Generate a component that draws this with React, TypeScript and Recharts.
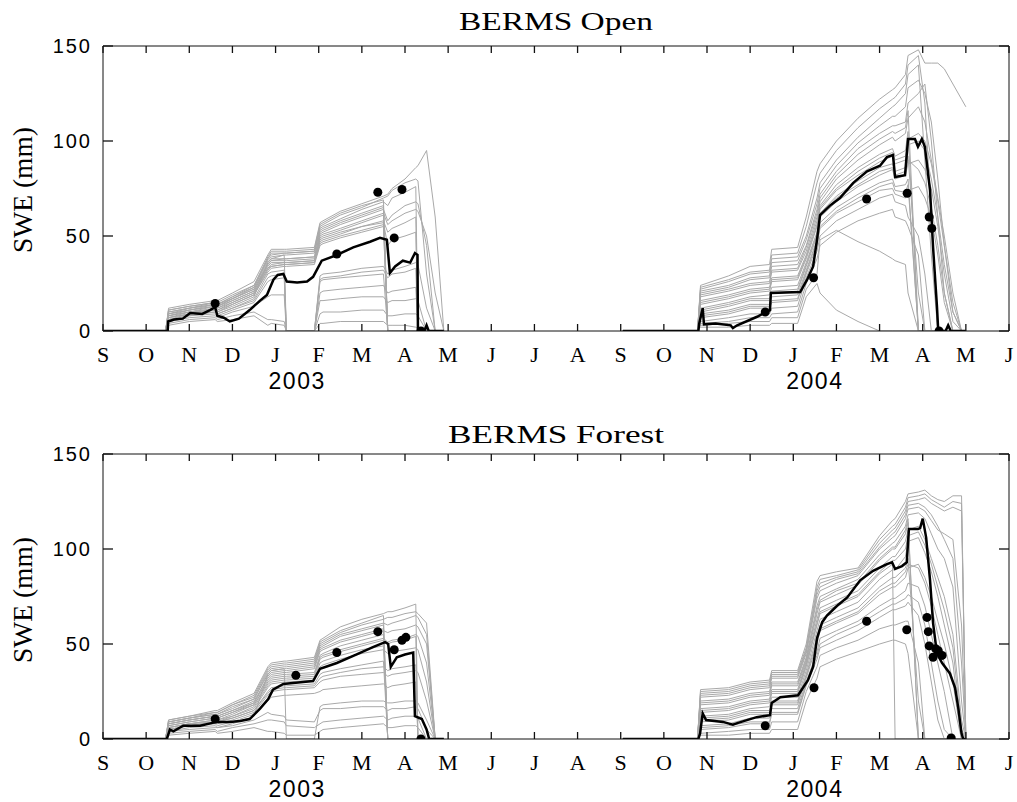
import React from 'react';
import { ComposedChart, Line, XAxis, YAxis } from 'recharts';

// ---------- axis ticks & labels ----------
const monthTicks = [0, 1, 2, 3, 4, 5, 6, 7, 8, 9, 10, 11, 12, 13, 14, 15, 16, 17, 18, 19, 20, 21];
const monthLabels = ['S', 'O', 'N', 'D', 'J', 'F', 'M', 'A', 'M', 'J', 'J', 'A', 'S', 'O', 'N', 'D', 'J', 'F', 'M', 'A', 'M', 'J'];
const yearTicks = [4.5, 16.5];
const yearLabels = ['2003', '2004'];
const sweTicks = [0, 50, 100, 150];

// time in months since 1 Sep 2002
const grid03 = [0, 1.45, 1.52, 2.0, 2.6, 2.65, 3.0, 3.5, 3.82, 3.9, 4.2, 4.25, 4.9, 5.03, 5.1, 5.5, 6.0, 6.5, 6.6, 6.7, 7.0, 7.25, 7.3, 7.5, 7.7, 7.9];
const grid04 = [12.05, 13.78, 13.85, 14.5, 15.0, 15.45, 15.5, 16.1, 16.3, 16.55, 16.62, 17.0, 17.5, 18.0, 18.3, 18.36, 18.6, 18.66, 18.9, 19.05, 19.2, 19.35, 19.5, 19.7, 19.9, 20.0];

// ---------- BERMS Open ----------
const openBlack03T = [0, 1.5, 1.51, 1.65, 1.85, 2.02, 2.3, 2.48, 2.6, 2.65, 2.8, 2.94, 3.15, 3.4, 3.64, 3.8, 3.95, 4.05, 4.18, 4.26, 4.5, 4.73, 4.87, 5.07, 5.42, 5.8, 6.19, 6.42, 6.58, 6.65, 6.77, 6.95, 7.12, 7.23, 7.29, 7.3, 7.45, 7.5, 7.55, 7.9];
const openBlack03V = [0, 0, 5, 6, 6.5, 9.5, 9, 11, 12.5, 8, 7, 5, 6.5, 11, 16, 19, 27, 29.5, 30, 26, 25.5, 26, 28.5, 37, 40, 44, 47, 49, 48, 30.5, 34, 37, 36, 41, 40, 0, 0, 3, 0, 0];
const openBlack04T = [12.05, 13.8, 13.82, 13.9, 13.93, 14.2, 14.55, 14.6, 14.7, 15.16, 15.46, 15.48, 16.16, 16.32, 16.46, 16.55, 16.62, 16.85, 17.08, 17.39, 17.71, 18.01, 18.17, 18.31, 18.36, 18.59, 18.66, 18.82, 18.89, 18.98, 19.05, 19.17, 19.24, 19.33, 19.36, 19.53, 19.59, 19.65, 20.0];
const openBlack04V = [0, 0, 4, 12, 3.5, 4, 3, 1.5, 3, 7.5, 11, 20, 20.5, 27, 34, 48, 61, 66, 70, 78, 84, 87, 91.5, 92.6, 81, 82, 101, 101, 97, 101, 97, 74, 44, 13, 0, 0, 3, 0, 0];
const openObsT = [2.6, 5.42, 6.37, 6.75, 6.93, 7.37, 15.35, 16.47, 17.7, 18.64, 19.15, 19.21, 19.38];
const openObsV = [14.5, 40.5, 73, 49, 74.5, 0, 10, 28, 69.5, 72.5, 60, 54, 0];

const openEns03 = [
  [0, 0, 12, 14, 16, 16, 20, 26, 40, 43, 43, 43, 44, 57, 58, 63, 67, 71, 72, 75, 80, 86, 87, 95, 60, 0],
  [0, 0, 11, 13, 15, 15, 19, 24, 38, 41, 41, 41, 42, 55, 56, 61, 65, 70, 71, 74, 78, 80, 79, 30, 0, 0],
  [0, 0, 10, 12, 14, 14, 18, 23, 37, 39, 40, 40, 41, 53, 54, 58, 62, 66, 0, 0, 0, 0, 0, 0, 0, 0],
  [0, 0, 9, 12, 14, 13, 17, 22, 36, 38, 38, 38, 39, 51, 52, 56, 60, 64, 58, 61, 66, 68, 67, 45, 0, 0],
  [0, 0, 8, 11, 13, 12, 16, 21, 34, 36, 36, 36, 37, 49, 50, 53, 57, 61, 0, 0, 0, 0, 0, 0, 0, 0],
  [0, 0, 8, 10, 12, 11, 15, 20, 33, 34, 35, 35, 36, 47, 48, 51, 55, 58, 52, 54, 57, 60, 0, 0, 0, 0],
  [0, 0, 7, 10, 11, 10, 14, 19, 31, 33, 34, 34, 35, 45, 46, 49, 52, 55, 0, 0, 0, 0, 0, 0, 0, 0],
  [0, 0, 7, 9, 11, 10, 13, 18, 36, 38, 40, 0, 0, 29, 30, 31, 33, 34, 30, 32, 34, 36, 35, 12, 0, 0],
  [0, 0, 6, 9, 10, 9, 12, 16, 28, 29, 30, 0, 0, 26, 27, 28, 29, 30, 0, 0, 0, 0, 0, 0, 0, 0],
  [0, 0, 6, 8, 9, 8, 11, 15, 26, 27, 28, 0, 0, 20, 21, 22, 23, 24, 20, 21, 22, 23, 0, 0, 0, 0],
  [0, 0, 5, 7, 8, 7, 10, 13, 18, 19, 19, 0, 0, 16, 16, 17, 18, 18, 15, 16, 16, 17, 16, 0, 0, 0],
  [0, 0, 4, 6, 7, 6, 8, 10, 6, 6, 5, 0, 0, 9, 10, 10, 11, 11, 8, 8, 9, 9, 8, 0, 0, 0],
  [0, 0, 3, 5, 6, 5, 6, 8, 3, 4, 3, 0, 0, 4, 4, 5, 5, 5, 3, 3, 3, 2, 1, 0, 0, 0],
  [0, 0, 9, 11, 13, 13, 17, 22, 35, 37, 37, 37, 38, 48, 49, 52, 55, 57, 45, 48, 50, 52, 0, 0, 0, 0],
  [0, 0, 11, 13, 15, 14, 18, 24, 39, 42, 42, 42, 43, 56, 57, 62, 66, 69, 0, 0, 0, 0, 0, 0, 0, 0],
  [0, 0, 10, 12, 15, 14, 17, 23, 38, 40, 41, 41, 42, 54, 55, 59, 64, 68, 66, 70, 73, 76, 0, 0, 0, 0],
  [0, 0, 9, 11, 14, 13, 16, 21, 35, 37, 38, 38, 39, 52, 53, 57, 61, 65, 0, 0, 0, 0, 0, 0, 0, 0],
  [0, 0, 8, 10, 13, 12, 15, 20, 33, 35, 36, 36, 37, 50, 51, 54, 58, 62, 56, 58, 62, 64, 63, 50, 20, 0],
  [0, 0, 7, 9, 12, 11, 14, 19, 32, 34, 35, 35, 36, 46, 47, 50, 53, 56, 0, 0, 0, 0, 0, 0, 0, 0],
  [0, 0, 6, 8, 10, 9, 12, 17, 30, 31, 32, 0, 0, 27, 28, 29, 31, 32, 28, 30, 31, 33, 0, 0, 0, 0],
];
const openEns04 = [
  [0, 0, 24, 29, 34, 35, 43, 44, 60, 84, 88, 100, 112, 122, 127, 128, 135, 145, 148, 141, 141, 141, 138, 130, 122, 118],
  [0, 0, 22, 26, 30, 31, 38, 39, 50, 70, 78, 90, 102, 112, 118, 119, 125, 135, 140, 90, 40, 0, 0, 0, 0, 0],
  [0, 0, 20, 23, 27, 28, 34, 35, 45, 64, 72, 84, 96, 104, 108, 108, 110, 120, 125, 130, 100, 60, 20, 0, 0, 0],
  [0, 0, 18, 21, 24, 25, 31, 32, 42, 60, 68, 80, 90, 98, 102, 100, 104, 112, 118, 110, 90, 70, 50, 20, 0, 0],
  [0, 0, 16, 19, 22, 23, 28, 29, 40, 58, 66, 77, 86, 93, 96, 92, 95, 105, 0, 0, 0, 0, 0, 0, 0, 0],
  [0, 0, 14, 17, 20, 21, 26, 27, 38, 55, 64, 74, 82, 89, 92, 88, 90, 98, 100, 95, 80, 60, 35, 10, 0, 0],
  [0, 0, 12, 15, 18, 19, 23, 24, 36, 52, 62, 71, 79, 86, 88, 84, 86, 92, 20, 0, 0, 0, 0, 0, 0, 0],
  [0, 0, 10, 13, 16, 16, 20, 21, 34, 50, 60, 68, 76, 82, 85, 80, 82, 88, 90, 85, 75, 55, 30, 5, 0, 0],
  [0, 0, 9, 11, 14, 14, 18, 19, 32, 48, 57, 65, 72, 78, 80, 76, 77, 80, 0, 0, 0, 0, 0, 0, 0, 0],
  [0, 0, 7, 9, 12, 12, 15, 16, 30, 45, 54, 62, 68, 74, 75, 72, 70, 74, 76, 70, 60, 40, 15, 0, 0, 0],
  [0, 0, 5, 7, 9, 9, 12, 13, 28, 42, 50, 58, 64, 70, 72, 68, 66, 60, 50, 30, 0, 0, 0, 0, 0, 0],
  [0, 0, 4, 5, 7, 7, 9, 10, 25, 38, 45, 52, 58, 62, 64, 60, 58, 55, 40, 0, 0, 0, 0, 0, 0, 0],
  [0, 0, 3, 4, 5, 5, 7, 7, 22, 30, 48, 53, 47, 42, 38, 37, 35, 20, 0, 0, 0, 0, 0, 0, 0, 0],
  [0, 0, 2, 2, 3, 3, 4, 4, 18, 25, 20, 11, 5, 0, 0, 0, 0, 0, 0, 0, 0, 0, 0, 0, 0, 0],
  [0, 0, 23, 27, 31, 32, 40, 41, 55, 78, 83, 95, 107, 117, 122, 123, 130, 140, 145, 120, 60, 0, 0, 0, 0, 0],
  [0, 0, 21, 24, 28, 29, 36, 37, 48, 67, 75, 87, 99, 108, 113, 113, 118, 128, 132, 125, 110, 80, 45, 10, 0, 0],
  [0, 0, 19, 22, 25, 26, 32, 33, 44, 62, 70, 82, 93, 101, 105, 104, 107, 116, 0, 0, 0, 0, 0, 0, 0, 0],
  [0, 0, 15, 18, 21, 22, 27, 28, 39, 56, 65, 75, 84, 91, 94, 90, 92, 101, 104, 100, 88, 68, 45, 15, 0, 0],
  [0, 0, 11, 14, 17, 17, 21, 22, 35, 51, 61, 70, 77, 84, 86, 82, 84, 90, 85, 78, 65, 45, 20, 0, 0, 0],
  [0, 0, 8, 10, 13, 13, 16, 17, 31, 47, 55, 63, 70, 76, 78, 74, 73, 77, 0, 0, 0, 0, 0, 0, 0, 0],
];

// ---------- BERMS Forest ----------
const forestBlack03T = [0, 1.48, 1.55, 1.63, 1.86, 2.25, 2.64, 2.94, 3.18, 3.4, 3.64, 3.83, 3.94, 4.18, 4.64, 4.87, 5.03, 5.42, 5.88, 6.27, 6.54, 6.61, 6.67, 6.81, 7.0, 7.19, 7.23, 7.39, 7.5, 7.56, 7.9];
const forestBlack03V = [0, 0, 5, 4, 7, 7, 9, 9, 9.5, 10.5, 16, 21, 26, 29, 30, 30.5, 37, 40, 44.5, 48.5, 51, 50, 38, 43, 44.5, 45.5, 12, 10.5, 5, 0, 0];
const forestBlack04T = [12.05, 13.8, 13.84, 13.9, 13.98, 14.37, 14.6, 14.72, 15.15, 15.46, 15.5, 15.7, 16.11, 16.34, 16.46, 16.55, 16.67, 16.78, 17.01, 17.25, 17.55, 17.85, 18.17, 18.29, 18.36, 18.52, 18.63, 18.68, 18.89, 18.94, 19.0, 19.08, 19.17, 19.24, 19.33, 19.45, 19.63, 19.75, 19.82, 19.9, 19.94, 20.0];
const forestBlack04V = [0, 0, 3, 13.5, 10, 9, 7.5, 8.5, 11.5, 12.5, 19, 22, 23, 31, 38, 53, 61.5, 65, 70, 74.5, 83.5, 88.5, 92, 93, 89.5, 91, 93, 110.5, 110.5, 111, 116, 106, 83.5, 61, 45, 40, 34.5, 27, 17, 3, 0, 0];
const forestObsT = [2.6, 4.47, 5.42, 6.37, 6.75, 6.93, 7.02, 7.37, 15.35, 16.48, 17.7, 18.63, 19.1, 19.13, 19.15, 19.24, 19.3, 19.36, 19.45, 19.66];
const forestObsV = [10.5, 33.5, 45.5, 56.5, 47, 52, 53.5, 0, 7, 27, 62, 57.5, 64, 56.5, 49, 43, 47.5, 46.5, 44, 0.5];

const forestEns03 = [
  [0, 0, 10, 12, 15, 15, 19, 24, 38, 40, 41, 41, 43, 52, 53, 59, 63, 66, 67, 67, 69, 71, 0, 0, 0, 0],
  [0, 0, 9, 11, 14, 14, 18, 22, 36, 38, 39, 39, 41, 50, 51, 56, 60, 63, 64, 64, 66, 67, 66, 61, 0, 0],
  [0, 0, 9, 11, 13, 13, 17, 21, 34, 36, 37, 37, 39, 48, 49, 54, 57, 60, 0, 0, 0, 0, 0, 0, 0, 0],
  [0, 0, 8, 10, 12, 12, 15, 20, 32, 34, 35, 35, 37, 46, 47, 51, 54, 57, 56, 57, 58, 60, 59, 50, 0, 0],
  [0, 0, 8, 10, 12, 11, 14, 19, 31, 33, 34, 34, 35, 44, 45, 49, 52, 55, 0, 0, 0, 0, 0, 0, 0, 0],
  [0, 0, 7, 9, 11, 10, 13, 18, 29, 31, 32, 32, 33, 42, 43, 46, 49, 52, 50, 51, 52, 54, 0, 0, 0, 0],
  [0, 0, 6, 8, 10, 9, 12, 16, 27, 29, 30, 30, 31, 38, 39, 42, 45, 47, 45, 46, 47, 48, 47, 30, 0, 0],
  [0, 0, 6, 8, 9, 9, 11, 15, 25, 27, 28, 28, 29, 34, 35, 37, 39, 41, 0, 0, 0, 0, 0, 0, 0, 0],
  [0, 0, 5, 7, 9, 8, 10, 14, 23, 25, 26, 26, 27, 30, 31, 33, 34, 35, 33, 34, 35, 36, 35, 20, 0, 0],
  [0, 0, 5, 7, 8, 7, 9, 13, 20, 22, 23, 23, 24, 25, 26, 27, 28, 29, 27, 28, 29, 30, 0, 0, 0, 0],
  [0, 0, 4, 6, 7, 6, 8, 12, 34, 36, 37, 0, 0, 17, 18, 19, 20, 20, 19, 19, 20, 20, 19, 10, 0, 0],
  [0, 0, 4, 5, 6, 6, 7, 10, 14, 13, 12, 10, 9, 15, 16, 16, 17, 17, 15, 16, 16, 17, 16, 5, 0, 0],
  [0, 0, 3, 4, 5, 4, 6, 8, 10, 10, 9, 7, 6, 8, 9, 10, 11, 12, 10, 11, 12, 12, 11, 0, 0, 0],
  [0, 0, 2, 3, 4, 3, 4, 6, 4, 4, 3, 2, 2, 4, 5, 6, 7, 8, 6, 6, 7, 7, 6, 0, 0, 0],
  [0, 0, 10, 12, 14, 14, 18, 23, 37, 39, 40, 40, 42, 51, 52, 57, 61, 65, 0, 0, 0, 0, 0, 0, 0, 0],
  [0, 0, 9, 11, 13, 13, 16, 21, 35, 37, 38, 38, 40, 49, 50, 55, 58, 61, 60, 61, 63, 65, 64, 55, 0, 0],
  [0, 0, 8, 10, 12, 12, 15, 19, 33, 35, 36, 36, 38, 47, 48, 52, 55, 58, 0, 0, 0, 0, 0, 0, 0, 0],
  [0, 0, 7, 9, 11, 11, 14, 18, 30, 32, 33, 33, 34, 43, 44, 47, 50, 53, 51, 52, 53, 55, 54, 40, 0, 0],
  [0, 0, 6, 8, 10, 10, 12, 17, 28, 30, 31, 31, 32, 40, 41, 44, 47, 49, 0, 0, 0, 0, 0, 0, 0, 0],
  [0, 0, 5, 7, 9, 9, 11, 15, 24, 26, 27, 27, 28, 32, 33, 35, 37, 38, 36, 37, 38, 39, 0, 0, 0, 0],
];
const forestEns04 = [
  [0, 0, 26, 27, 30, 31, 36, 36, 50, 83, 86, 88, 90, 107, 115, 116, 125, 129, 130, 131, 128, 126, 125, 128, 128, 0],
  [0, 0, 24, 25, 28, 29, 34, 34, 47, 78, 82, 85, 88, 103, 110, 111, 120, 125, 126, 127, 124, 122, 120, 122, 120, 0],
  [0, 0, 22, 23, 26, 27, 32, 32, 45, 74, 78, 82, 86, 100, 106, 107, 116, 121, 122, 120, 115, 110, 108, 105, 60, 0],
  [0, 0, 20, 21, 24, 25, 30, 30, 43, 70, 75, 79, 84, 97, 103, 104, 112, 118, 119, 116, 108, 100, 95, 80, 20, 0],
  [0, 0, 18, 19, 22, 23, 28, 28, 41, 66, 72, 76, 81, 94, 100, 100, 108, 114, 0, 0, 0, 0, 0, 0, 0, 0],
  [0, 0, 16, 17, 20, 21, 26, 26, 40, 63, 69, 73, 78, 90, 96, 96, 104, 110, 112, 105, 95, 85, 75, 55, 10, 0],
  [0, 0, 14, 15, 18, 19, 24, 24, 38, 60, 66, 70, 75, 87, 92, 0, 0, 0, 0, 0, 0, 0, 0, 0, 0, 0],
  [0, 0, 12, 13, 16, 17, 22, 22, 36, 57, 63, 67, 72, 84, 89, 89, 96, 104, 106, 98, 88, 75, 60, 40, 0, 0],
  [0, 0, 11, 12, 15, 15, 20, 20, 34, 54, 60, 64, 69, 80, 85, 85, 90, 95, 20, 0, 0, 0, 0, 0, 0, 0],
  [0, 0, 9, 10, 13, 13, 18, 18, 32, 50, 57, 61, 66, 76, 80, 80, 85, 90, 92, 85, 75, 62, 50, 30, 0, 0],
  [0, 0, 7, 8, 11, 11, 16, 16, 30, 46, 53, 57, 62, 70, 74, 74, 78, 82, 80, 70, 55, 40, 25, 0, 0, 0],
  [0, 0, 5, 6, 8, 8, 13, 13, 28, 42, 48, 52, 57, 64, 68, 68, 70, 72, 65, 50, 30, 10, 0, 0, 0, 0],
  [0, 0, 3, 4, 5, 5, 9, 9, 25, 38, 44, 48, 52, 58, 60, 60, 62, 62, 40, 0, 0, 0, 0, 0, 0, 0],
  [0, 0, 2, 2, 3, 3, 5, 5, 20, 32, 38, 42, 46, 50, 52, 52, 50, 45, 0, 0, 0, 0, 0, 0, 0, 0],
  [0, 0, 25, 26, 29, 30, 35, 35, 48, 80, 84, 86, 89, 105, 112, 113, 122, 127, 128, 129, 126, 124, 122, 125, 124, 0],
  [0, 0, 23, 24, 27, 28, 33, 33, 46, 76, 80, 84, 87, 101, 108, 109, 118, 123, 124, 122, 118, 112, 105, 95, 40, 0],
  [0, 0, 19, 20, 23, 24, 29, 29, 42, 68, 73, 78, 82, 95, 101, 101, 110, 116, 0, 0, 0, 0, 0, 0, 0, 0],
  [0, 0, 15, 16, 19, 20, 25, 25, 39, 61, 67, 71, 76, 88, 94, 94, 100, 107, 109, 102, 92, 80, 68, 48, 5, 0],
  [0, 0, 10, 11, 14, 14, 19, 19, 33, 52, 58, 62, 67, 78, 82, 82, 88, 92, 90, 82, 70, 55, 40, 20, 0, 0],
  [0, 0, 6, 7, 9, 9, 14, 14, 29, 44, 50, 55, 60, 67, 71, 71, 74, 76, 72, 60, 40, 20, 5, 0, 0, 0],
];

// ---------- layout ----------
const W = 1017;
const H = 394;
const PLOT_L = 103; // left axis width
const PLOT_R = 1009; // W - right axis width
const PLOT_T = 46; // top axis height
const PLOT_B = 331; // H - bottom axes heights
const MONTH_AXIS_H = 30;
const YEAR_AXIS_H = H - PLOT_B - MONTH_AXIS_H;
const GREY = '#a9a9a9';
const FRAME = '#111';
const SERIF = "'Liberation Serif', 'Times New Roman', serif";
const SANS = "'Liberation Sans', Arial, sans-serif";
const X_MIN = 0;
const X_MAX = 21;
const Y_MIN = 0;
const Y_MAX = 150;

function series(ts: number[], vs: number[]) {
  return ts.map((t, i) => ({ t, v: vs[i] }));
}

const MonthTick = (p: any) => (
  <text x={p.x} y={p.y} textAnchor="middle" fontFamily={SERIF} fontSize={22} fill="#000">
    {monthLabels[monthTicks.indexOf(p.payload.value)]}
  </text>
);

const YearTick = (p: any) => (
  <text x={p.x} y={p.y} textAnchor="middle" fontFamily={SANS} fontSize={23} letterSpacing={1.5} fill="#000">
    {yearLabels[yearTicks.indexOf(p.payload.value)]}
  </text>
);

const ValueTick = (p: any) => (
  <text x={p.x} y={p.y} dy={7} textAnchor="end" fontFamily={SANS} fontSize={20} letterSpacing={2} fill="#000">
    {p.payload.value}
  </text>
);

// inward tick marks of the frame (axis decoration)
function FrameTicks() {
  const px = (m: number) => PLOT_L + ((m - X_MIN) / (X_MAX - X_MIN)) * (PLOT_R - PLOT_L);
  const py = (v: number) => PLOT_B - ((v - Y_MIN) / (Y_MAX - Y_MIN)) * (PLOT_B - PLOT_T);
  const segs: any[] = [];
  monthTicks.forEach((m) => {
    segs.push(<line key={'b' + m} x1={px(m)} x2={px(m)} y1={PLOT_B} y2={PLOT_B - 7} />);
    segs.push(<line key={'t' + m} x1={px(m)} x2={px(m)} y1={PLOT_T} y2={PLOT_T + 7} />);
  });
  sweTicks.forEach((v) => {
    segs.push(<line key={'l' + v} x1={PLOT_L} x2={PLOT_L + 10} y1={py(v)} y2={py(v)} />);
    segs.push(<line key={'r' + v} x1={PLOT_R} x2={PLOT_R - 10} y1={py(v)} y2={py(v)} />);
  });
  return (
    <g stroke={FRAME} strokeWidth={1.3}>
      {segs}
    </g>
  );
}

type PanelProps = {
  top: number;
  title: string;
  titleLen: number;
  titleY: number;
  labelY: number;
  black03: any[];
  black04: any[];
  ens03: number[][];
  ens04: number[][];
  obs: any[];
};

function Panel({ top, title, titleLen, titleY, labelY, black03, black04, ens03, ens04, obs }: PanelProps) {
  return (
    <div style={{ position: 'absolute', left: 0, top, width: W, height: H }}>
      <ComposedChart width={W} height={H} margin={{ top: 0, right: 0, bottom: 0, left: 0 }}>
        <XAxis
          xAxisId="m"
          dataKey="t"
          type="number"
          domain={[X_MIN, X_MAX]}
          allowDataOverflow
          ticks={monthTicks}
          interval={0}
          tickSize={0}
          tickMargin={31}
          tickLine={false}
          tick={<MonthTick />}
          height={MONTH_AXIS_H}
          stroke={FRAME}
        />
        <XAxis
          xAxisId="year"
          dataKey="t"
          type="number"
          domain={[X_MIN, X_MAX]}
          allowDataOverflow
          ticks={yearTicks}
          interval={0}
          tickSize={0}
          tickMargin={28}
          tickLine={false}
          axisLine={false}
          tick={<YearTick />}
          height={YEAR_AXIS_H}
        />
        <XAxis
          xAxisId="top"
          dataKey="t"
          orientation="top"
          type="number"
          domain={[X_MIN, X_MAX]}
          allowDataOverflow
          ticks={monthTicks}
          interval={0}
          tickLine={false}
          tick={false}
          height={PLOT_T}
          stroke={FRAME}
        />
        <YAxis
          yAxisId="l"
          type="number"
          domain={[Y_MIN, Y_MAX]}
          allowDataOverflow
          ticks={sweTicks}
          interval={0}
          tickSize={0}
          tickMargin={11}
          tickLine={false}
          tick={<ValueTick />}
          width={PLOT_L}
          stroke={FRAME}
        />
        <YAxis
          yAxisId="r"
          orientation="right"
          type="number"
          domain={[Y_MIN, Y_MAX]}
          allowDataOverflow
          ticks={sweTicks}
          interval={0}
          tickLine={false}
          tick={false}
          width={W - PLOT_R}
          stroke={FRAME}
        />
        {ens03.map((vals, i) => (
          <Line
            key={'e3' + i}
            xAxisId="m"
            yAxisId="l"
            data={series(grid03, vals)}
            dataKey="v"
            type="linear"
            stroke={GREY}
            strokeWidth={1}
            dot={false}
            activeDot={false}
            isAnimationActive={false}
          />
        ))}
        {ens04.map((vals, i) => (
          <Line
            key={'e4' + i}
            xAxisId="top"
            yAxisId="r"
            data={series(grid04, vals)}
            dataKey="v"
            type="linear"
            stroke={GREY}
            strokeWidth={1}
            dot={false}
            activeDot={false}
            isAnimationActive={false}
          />
        ))}
        <Line xAxisId="m" yAxisId="l" data={black03} dataKey="v" type="linear" stroke="#000" strokeWidth={2.5} dot={false} activeDot={false} isAnimationActive={false} />
        <Line xAxisId="top" yAxisId="r" data={black04} dataKey="v" type="linear" stroke="#000" strokeWidth={2.5} dot={false} activeDot={false} isAnimationActive={false} />
        <Line
          xAxisId="year"
          yAxisId="l"
          data={obs}
          dataKey="v"
          type="linear"
          stroke="none"
          strokeWidth={0}
          dot={{ r: 4.5, fill: '#000', stroke: '#000', strokeWidth: 0 }}
          activeDot={false}
          isAnimationActive={false}
        />
      </ComposedChart>
      <svg width={W} height={H} style={{ position: 'absolute', left: 0, top: 0, pointerEvents: 'none' }}>
        <FrameTicks />
        <text
          x={(PLOT_L + PLOT_R) / 2}
          y={titleY}
          textAnchor="middle"
          fontFamily={SERIF}
          fontSize={26}
          textLength={titleLen}
          lengthAdjust="spacingAndGlyphs"
          fill="#000"
        >
          {title}
        </text>
        <text
          x={32}
          y={labelY}
          transform={`rotate(-90 32 ${labelY})`}
          textAnchor="middle"
          fontFamily={SERIF}
          fontSize={27}
          textLength={126}
          lengthAdjust="spacingAndGlyphs"
          fill="#000"
        >
          SWE (mm)
        </text>
      </svg>
    </div>
  );
}

export default function App() {
  return (
    <div style={{ position: 'relative', width: W, height: 802, background: '#fff' }}>
      <style>{'body{margin:0;background:#fff;}'}</style>
      <Panel
        top={0}
        title="BERMS Open"
        titleLen={194}
        titleY={30}
        labelY={190}
        black03={series(openBlack03T, openBlack03V)}
        black04={series(openBlack04T, openBlack04V)}
        ens03={openEns03}
        ens04={openEns04}
        obs={series(openObsT, openObsV)}
      />
      <Panel
        top={408}
        title="BERMS Forest"
        titleLen={216}
        titleY={35}
        labelY={192}
        black03={series(forestBlack03T, forestBlack03V)}
        black04={series(forestBlack04T, forestBlack04V)}
        ens03={forestEns03}
        ens04={forestEns04}
        obs={series(forestObsT, forestObsV)}
      />
    </div>
  );
}
